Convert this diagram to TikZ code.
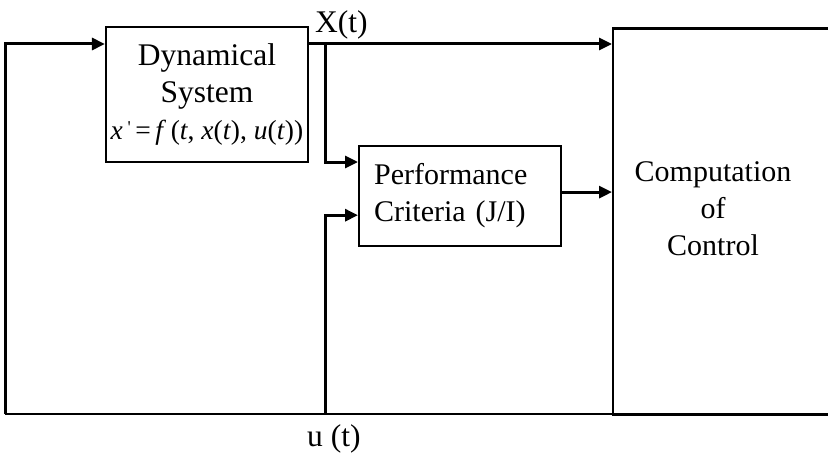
\documentclass[tikz,border=0pt]{standalone}
\usepackage{fontspec}
\setmainfont{Liberation Serif}
\usetikzlibrary{arrows.meta}
\begin{document}
\begin{tikzpicture}[x=1pt,y=-1pt,
  box/.style={draw, line width=2.2pt, inner sep=0pt},
  conn/.style={line width=3pt, -{Triangle[length=13pt,width=12pt]}},
  wire/.style={line width=2.4pt},
  lbl/.style={font=\fontsize{31.5}{37}\selectfont},
  lbls/.style={font=\fontsize{30}{37}\selectfont}
]
\useasboundingbox (0,0) rectangle (828,460);
\clip (0,0) rectangle (828,460);
\fill[white] (0,0) rectangle (828,460);
\node[box, lbl, minimum width=202pt, minimum height=135pt, align=center] (ds) at (207,94.5)
  {Dynamical\\System\\{\fontsize{27.5}{28}\selectfont\textit{x}\,{\fontsize{18}{18}\selectfont\raisebox{0.35em}{\textquotesingle}}\,=\,\textit{f}\,(\textit{t}, \textit{x}(\textit{t}), \textit{u}(\textit{t}))}};
\node[box, lbls, anchor=north west, minimum height=100pt, text width=172pt, inner xsep=15pt, align=left] (pc) at (358,145) {Performance\\Criteria (J/I)};
\node[box, anchor=north west, minimum width=240pt, minimum height=386.5pt] (cc) at (612,27.5) {};
\node[lbls, align=center] (cct) at (713,209) {Computation\\of\\Control};
\node[lbl, anchor=base west, inner sep=0pt] (xl) at (315,33) {X(t)};
\node[lbl, anchor=base west, inner sep=0pt] (ul) at (307,446) {u (t)};
\coordinate (lt) at (5,44);
\coordinate (lb) at (5,414);
\coordinate (rb) at (828,414);
\coordinate (br) at (325,44);
\coordinate (bb) at (325,414);
\draw[conn] (lb) -- (lt) -- (ds.west |- lt);
\draw[conn] (ds.east |- lt) -- (cc.west |- lt);
\draw[conn] (br) |- ([yshift=-17pt]pc.north west);
\draw[conn] (bb) |- ([yshift=32pt]pc.south west);
\draw[conn] ([yshift=4pt]pc.east) -- ([yshift=4pt]pc.east -| cc.west);
\draw[wire] (lb) -- (rb);
\end{tikzpicture}
\end{document}
